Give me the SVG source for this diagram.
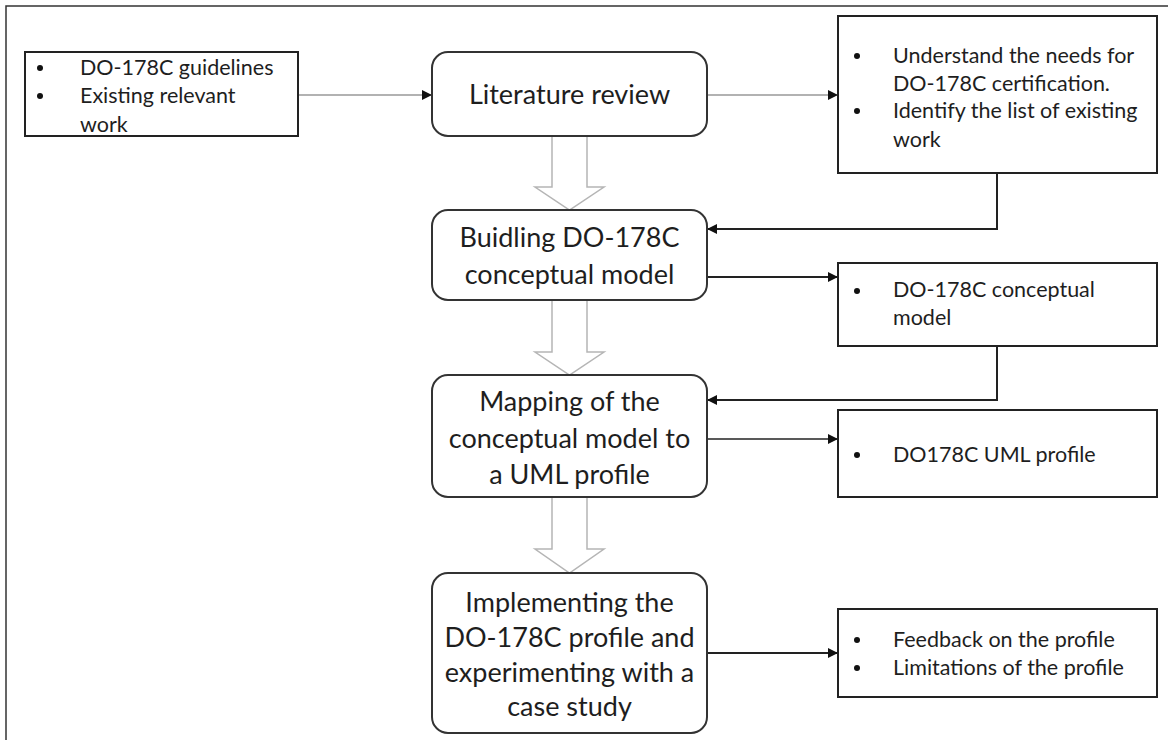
<svg xmlns="http://www.w3.org/2000/svg" width="1168" height="740" viewBox="0 0 1168 740">
  <defs>
    <style>
      .frame { fill: none; stroke: #333; stroke-width: 1.5; }
      .step { fill: #fff; stroke: #333; stroke-width: 2; }
      .note { fill: #fff; stroke: #222; stroke-width: 2; }
      .txt { font-family: Lato, "Liberation Sans", sans-serif; fill: #1e1e1e; }
      .big { font-size: 27px; text-anchor: middle; }
      .small { font-size: 21.5px; }
      .bullet { fill: #111; }
      .link { fill: none; stroke: #222; stroke-width: 2; }
      .thin { fill: none; stroke: #999; stroke-width: 1.3; }
      .flow { fill: #fff; stroke: #b5b5b5; stroke-width: 1.5; }
    </style>
    <marker id="head" viewBox="0 0 10 10" refX="10" refY="5" markerWidth="10" markerHeight="10" markerUnits="userSpaceOnUse" orient="auto">
      <path d="M0,0 L10,5 L0,10 Z" fill="#111"/>
    </marker>
  </defs>

  <!-- page border (top and left only) -->
  <path class="frame" d="M6,740 L6,6 L1168,6"/>

  <!-- hollow block arrows between the process steps -->
  <g id="flow-arrows">
    <path class="flow" d="M552,136 L552,187 L535,187 L569.5,210 L604,187 L587,187 L587,136"/>
    <path class="flow" d="M552,300 L552,352 L535,352 L569.5,375 L604,352 L587,352 L587,300"/>
    <path class="flow" d="M552,497 L552,549 L535,549 L569.5,573 L604,549 L587,549 L587,497"/>
  </g>

  <!-- connectors -->
  <g id="connectors">
    <path class="thin" d="M298,95 L432,95" marker-end="url(#head)"/>
    <path class="thin" d="M707,95 L838,95" marker-end="url(#head)"/>
    <path class="link" d="M997,173 L997,229 L707,229" marker-end="url(#head)"/>
    <path class="link" d="M707,277 L838,277" marker-end="url(#head)"/>
    <path class="link" d="M997,346 L997,400 L707,400" marker-end="url(#head)"/>
    <path class="link" style="stroke-width:1.5" d="M707,439 L838,439" marker-end="url(#head)"/>
    <path class="link" d="M707,653 L838,653" marker-end="url(#head)"/>
  </g>

  <!-- inputs -->
  <g id="inputs">
    <rect class="note" x="25" y="52" width="273" height="84"/>
    <circle class="bullet" cx="40" cy="68" r="3"/>
    <circle class="bullet" cx="40" cy="96" r="3"/>
    <text class="txt small" x="80" y="75">DO-178C guidelines</text>
    <text class="txt small" x="80" y="103">Existing relevant</text>
    <text class="txt small" x="80" y="132">work</text>
  </g>

  <!-- process steps -->
  <g id="literature-review">
    <rect class="step" x="432" y="52" width="275" height="84" rx="16"/>
    <text class="txt big" x="569.5" y="104">Literature review</text>
  </g>

  <g id="conceptual-model">
    <rect class="step" x="432" y="210" width="275" height="90" rx="16"/>
    <text class="txt big" x="569.5" y="247">Buidling DO-178C</text>
    <text class="txt big" x="569.5" y="284">conceptual model</text>
  </g>

  <g id="uml-mapping">
    <rect class="step" x="432" y="375" width="275" height="122" rx="16"/>
    <text class="txt big" x="569.5" y="411">Mapping of the</text>
    <text class="txt big" x="569.5" y="448">conceptual model to</text>
    <text class="txt big" x="569.5" y="484">a UML profile</text>
  </g>

  <g id="implementation">
    <rect class="step" x="432" y="573" width="275" height="160" rx="16"/>
    <text class="txt big" x="569.5" y="612">Implementing the</text>
    <text class="txt big" x="569.5" y="647">DO-178C profile and</text>
    <text class="txt big" x="569.5" y="682">experimenting with a</text>
    <text class="txt big" x="569.5" y="716">case study</text>
  </g>

  <!-- outputs -->
  <g id="review-output">
    <rect class="note" x="838" y="16" width="319" height="157"/>
    <circle class="bullet" cx="857" cy="56" r="3"/>
    <circle class="bullet" cx="857" cy="111" r="3"/>
    <text class="txt small" x="893" y="63">Understand the needs for</text>
    <text class="txt small" x="893" y="91">DO-178C certification.</text>
    <text class="txt small" x="893" y="118">Identify the list of existing</text>
    <text class="txt small" x="893" y="147">work</text>
  </g>

  <g id="model-output">
    <rect class="note" x="838" y="263" width="319" height="83"/>
    <circle class="bullet" cx="857" cy="291" r="3"/>
    <text class="txt small" x="893" y="297">DO-178C conceptual</text>
    <text class="txt small" x="893" y="325">model</text>
  </g>

  <g id="profile-output">
    <rect class="note" x="838" y="410" width="319" height="87"/>
    <circle class="bullet" cx="857" cy="455" r="3"/>
    <text class="txt small" x="893" y="462">DO178C UML profile</text>
  </g>

  <g id="case-study-output">
    <rect class="note" x="838" y="609" width="319" height="88"/>
    <circle class="bullet" cx="857" cy="640" r="3"/>
    <circle class="bullet" cx="857" cy="668" r="3"/>
    <text class="txt small" x="893" y="647">Feedback on the profile</text>
    <text class="txt small" x="893" y="675">Limitations of the profile</text>
  </g>
</svg>
